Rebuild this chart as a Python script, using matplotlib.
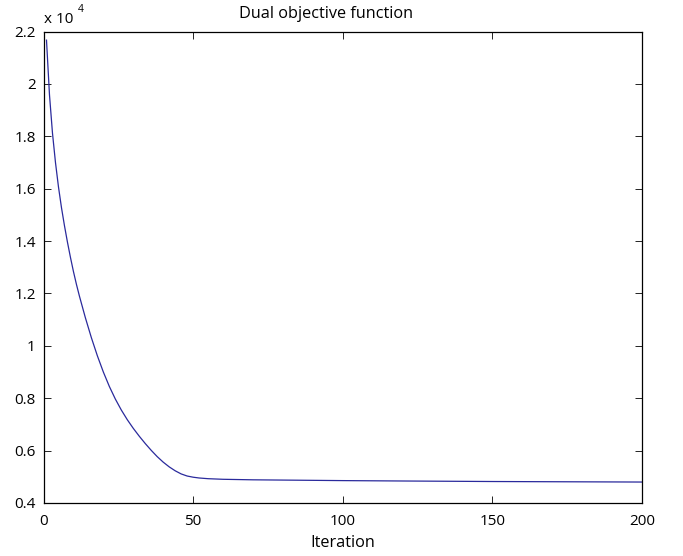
import matplotlib
matplotlib.use("Agg")
import matplotlib.pyplot as plt
import numpy as np

plt.rcParams['font.family'] = ['Open Sans', 'DejaVu Sans']

iterations = [1, 2, 3, 4, 5, 6, 7, 8, 9, 10, 11, 12, 14, 16, 18, 20, 22, 24, 26,
              28, 30, 32, 34, 36, 38, 40, 42, 44, 46, 48, 50, 52, 55, 60, 70, 80,
              100, 120, 150, 175, 200]
dual_obj = [21670, 19580, 18120, 17000, 16070, 15280, 14590, 13960, 13380, 12840,
            12350, 11900, 11070, 10310, 9620, 9000, 8450, 7970, 7550, 7180, 6850,
            6550, 6270, 6010, 5770, 5560, 5380, 5230, 5110, 5030, 4985, 4955,
            4928, 4905, 4885, 4875, 4855, 4840, 4820, 4810, 4800]

xticks = [0, 50, 100, 150, 200]
yticks = [0.4, 0.6, 0.8, 1.0, 1.2, 1.4, 1.6, 1.8, 2.0, 2.2]
ytick_labels = ['0.4', '0.6', '0.8', '1', '1.2', '1.4', '1.6', '1.8', '2', '2.2']

fig = plt.figure(figsize=(6.83, 5.56), dpi=100)
ax = fig.add_axes([43.5/683, 1-503/556, (642-43.5)/683, (503-31.5)/556])

ax.plot(iterations, np.array(dual_obj)/1e4, color='#2a2a9c', linewidth=0.9)

ax.set_xlim(0, 200)
ax.set_ylim(0.4, 2.2)
ax.set_xticks(xticks)
ax.set_xticklabels([str(t) for t in xticks])
ax.set_yticks(yticks)
ax.set_yticklabels(ytick_labels)
ax.tick_params(direction='in', length=5, width=0.6, top=True, right=True,
               labelsize=11, colors='black')
ax.tick_params(axis='x', pad=8)
ax.tick_params(axis='y', pad=5.5)
for s in ax.spines.values():
    s.set_linewidth(0.9)
    s.set_color('black')

ax.set_title('Dual objective function', fontsize=11.7, pad=10, x=0.472)
ax.set_xlabel('Iteration', fontsize=11.7, labelpad=4)

ax.text(0.0, 1.018, 'x 10', transform=ax.transAxes, fontsize=11,
        ha='left', va='baseline')
ax.text(0.0576, 1.041, '4', transform=ax.transAxes, fontsize=7.5,
        ha='left', va='baseline')

fig.savefig('out.png', dpi=100)
